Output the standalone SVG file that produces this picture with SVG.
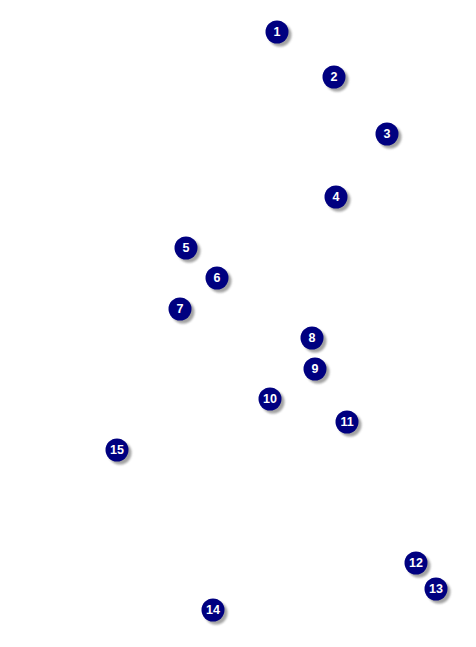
<svg xmlns="http://www.w3.org/2000/svg" width="476" height="647" viewBox="0 0 476 647">
<style>
.sh{fill:#8c8c8c;opacity:0.8}
.c{fill:#000080}
.t{fill:#fff;font-family:"Liberation Sans",Arial,sans-serif;font-weight:bold;font-size:12.5px;text-anchor:middle;dominant-baseline:central}
</style>
<defs>
<filter id="b" x="-50%" y="-50%" width="200%" height="200%"><feGaussianBlur stdDeviation="1"/></filter>
</defs>
<rect width="476" height="647" fill="#fff"/>
<g id="connectors"></g>
<g id="n1"><circle class="sh" cx="280" cy="35" r="11.5" filter="url(#b)"/><circle class="c" cx="277" cy="32" r="11.5"/><text class="t" x="277" y="32">1</text></g>
<g id="n2"><circle class="sh" cx="337" cy="80" r="11.5" filter="url(#b)"/><circle class="c" cx="334" cy="77" r="11.5"/><text class="t" x="334" y="77">2</text></g>
<g id="n3"><circle class="sh" cx="390" cy="137" r="11.5" filter="url(#b)"/><circle class="c" cx="387" cy="134" r="11.5"/><text class="t" x="387" y="134">3</text></g>
<g id="n4"><circle class="sh" cx="339" cy="200" r="11.5" filter="url(#b)"/><circle class="c" cx="336" cy="197" r="11.5"/><text class="t" x="336" y="197">4</text></g>
<g id="n5"><circle class="sh" cx="189" cy="251" r="11.5" filter="url(#b)"/><circle class="c" cx="186" cy="248" r="11.5"/><text class="t" x="186" y="248">5</text></g>
<g id="n6"><circle class="sh" cx="220" cy="281" r="11.5" filter="url(#b)"/><circle class="c" cx="217" cy="278" r="11.5"/><text class="t" x="217" y="278">6</text></g>
<g id="n7"><circle class="sh" cx="183" cy="312" r="11.5" filter="url(#b)"/><circle class="c" cx="180" cy="309" r="11.5"/><text class="t" x="180" y="309">7</text></g>
<g id="n8"><circle class="sh" cx="315" cy="341" r="11.5" filter="url(#b)"/><circle class="c" cx="312" cy="338" r="11.5"/><text class="t" x="312" y="338">8</text></g>
<g id="n9"><circle class="sh" cx="318" cy="372" r="11.5" filter="url(#b)"/><circle class="c" cx="315" cy="369" r="11.5"/><text class="t" x="315" y="369">9</text></g>
<g id="n10"><circle class="sh" cx="273" cy="402" r="11.5" filter="url(#b)"/><circle class="c" cx="270" cy="399" r="11.5"/><text class="t" x="270" y="399">10</text></g>
<g id="n11"><circle class="sh" cx="350" cy="425" r="11.5" filter="url(#b)"/><circle class="c" cx="347" cy="422" r="11.5"/><text class="t" x="347" y="422">11</text></g>
<g id="n12"><circle class="sh" cx="419" cy="566" r="11.5" filter="url(#b)"/><circle class="c" cx="416" cy="563" r="11.5"/><text class="t" x="416" y="563">12</text></g>
<g id="n13"><circle class="sh" cx="439" cy="592" r="11.5" filter="url(#b)"/><circle class="c" cx="436" cy="589" r="11.5"/><text class="t" x="436" y="589">13</text></g>
<g id="n14"><circle class="sh" cx="216" cy="613" r="11.5" filter="url(#b)"/><circle class="c" cx="213" cy="610" r="11.5"/><text class="t" x="213" y="610">14</text></g>
<g id="n15"><circle class="sh" cx="120" cy="453" r="11.5" filter="url(#b)"/><circle class="c" cx="117" cy="450" r="11.5"/><text class="t" x="117" y="450">15</text></g>
</svg>
